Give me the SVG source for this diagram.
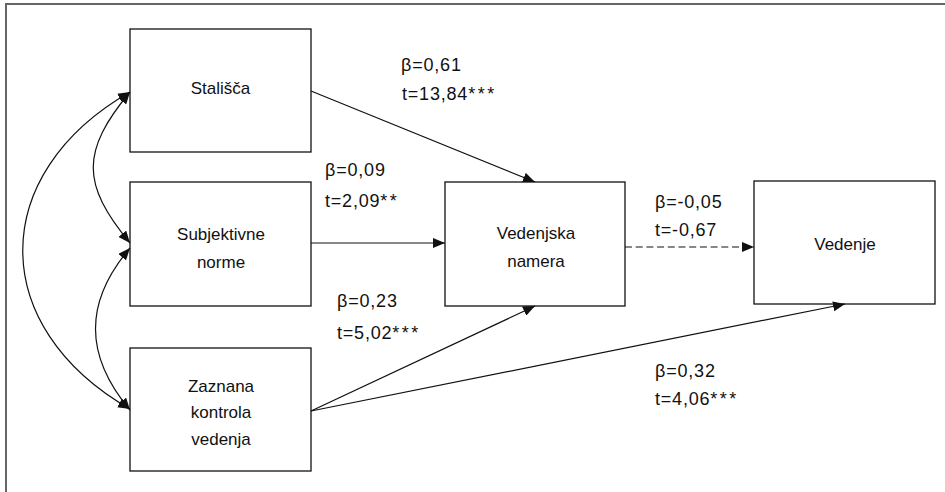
<svg xmlns="http://www.w3.org/2000/svg" width="945" height="492" viewBox="0 0 945 492">
<style>
.box{fill:#fff;stroke:#111;stroke-width:1.3}
.nt{font-family:"Liberation Sans",Arial,sans-serif;font-size:17px;fill:#111;text-anchor:middle}
.lb{font-family:"Liberation Sans",Arial,sans-serif;font-size:18px;fill:#111;letter-spacing:0.8px}
.st{letter-spacing:2.5px}
.ln{fill:none;stroke:#111;stroke-width:1.2}
.dash{stroke-dasharray:7 3.7}
</style>
<defs>
<marker id="ah" viewBox="0 0 12 10" refX="12" refY="5" markerWidth="12" markerHeight="10" markerUnits="userSpaceOnUse" orient="auto-start-reverse">
<path d="M0,0 L12,5 L0,10 z" fill="#111"/>
</marker>
</defs>
<rect x="6" y="4" width="960" height="520" fill="none" stroke="#666" stroke-width="2"/>
<g id="stalisca">
<rect class="box" x="130" y="29" width="181" height="123"/>
<text class="nt" x="220.5" y="93.5">Stališča</text>
</g>
<g id="subjektivne">
<rect class="box" x="130" y="182" width="181" height="124"/>
<text class="nt" x="221" y="240">Subjektivne</text>
<text class="nt" x="221" y="268">norme</text>
</g>
<g id="zaznana">
<rect class="box" x="130" y="348" width="181" height="123"/>
<text class="nt" x="221" y="391.5">Zaznana</text>
<text class="nt" x="221" y="418">kontrola</text>
<text class="nt" x="221" y="445">vedenja</text>
</g>
<g id="namera">
<rect class="box" x="445" y="182" width="180" height="124"/>
<text class="nt" x="536" y="239">Vedenjska</text>
<text class="nt" x="536" y="266.5">namera</text>
</g>
<g id="vedenje">
<rect class="box" x="754" y="181" width="181" height="123"/>
<text class="nt" x="845" y="250">Vedenje</text>
</g>
<g id="connectors">
<path class="ln" d="M130,92 C-13,174 -13,327 130,409" marker-start="url(#ah)" marker-end="url(#ah)"/>
<path class="ln" d="M130,92 C81,151 81,184 130,243" marker-start="url(#ah)" marker-end="url(#ah)"/>
<path class="ln" d="M130,248 C84,302 84,355 130,410" marker-start="url(#ah)" marker-end="url(#ah)"/>
<line class="ln" x1="311" y1="91" x2="535" y2="182" marker-end="url(#ah)"/>
<line class="ln" x1="311" y1="243" x2="445" y2="243" marker-end="url(#ah)"/>
<line class="ln" x1="311" y1="411" x2="535" y2="306" marker-end="url(#ah)"/>
<line class="ln" x1="311" y1="411" x2="845" y2="304" marker-end="url(#ah)"/>
<line class="ln dash" x1="625" y1="247" x2="754" y2="247" marker-end="url(#ah)"/>
</g>
<g id="labels">
<text class="lb" x="401" y="71">β=0,61</text>
<text class="lb" x="402" y="99.5">t=13,84<tspan class="st">***</tspan></text>
<text class="lb" x="325" y="176">β=0,09</text>
<text class="lb" x="325" y="207">t=2,09<tspan class="st">**</tspan></text>
<text class="lb" x="337" y="306.5">β=0,23</text>
<text class="lb" x="337" y="338.5">t=5,02<tspan class="st">***</tspan></text>
<text class="lb" x="655" y="208">β=-0,05</text>
<text class="lb" x="655" y="235.5">t=-0,67</text>
<text class="lb" x="655" y="376.5">β=0,32</text>
<text class="lb" x="655" y="405">t=4,06<tspan class="st">***</tspan></text>
</g>
</svg>
